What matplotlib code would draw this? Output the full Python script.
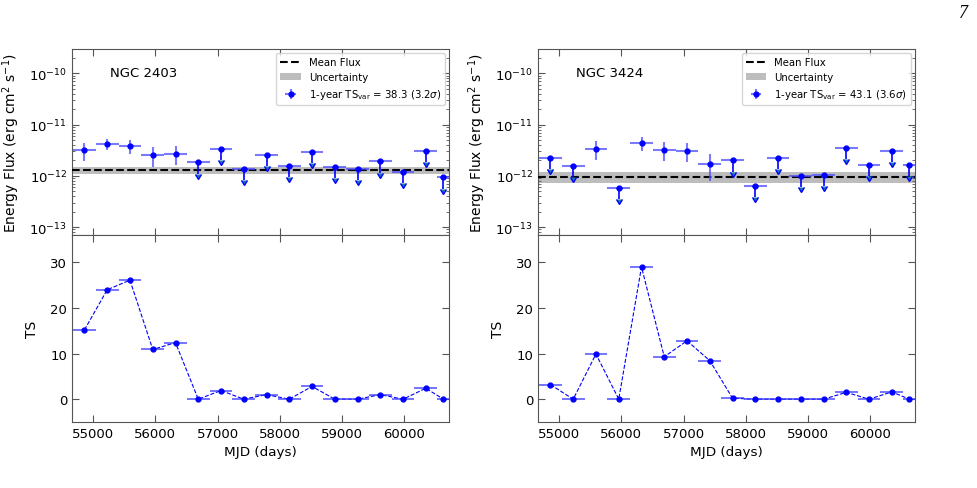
import matplotlib.pyplot as plt
import numpy as np

# bin centres (MJD) and half widths, 1-year bins
mjd = [54865, 55230, 55595, 55961, 56326, 56691, 57056, 57422, 57787,
       58152, 58517, 58882, 59248, 59613, 59978, 60343, 60625]
half_w = [182.6] * 16 + [100]

# NGC 2403
flux_2403 = [3.21e-12, 4.15e-12, 3.9e-12, 2.56e-12, 2.72e-12, 1.85e-12, 3.36e-12, 1.37e-12, 2.56e-12,
             1.59e-12, 2.98e-12, 1.50e-12, 1.37e-12, 1.93e-12, 1.21e-12, 3.11e-12, 0.94e-12]
err_2403 = [1.25e-12, 1.0e-12, 1.2e-12, 1.05e-12, 1.1e-12, 0, 0, 0, 0,
            0, 0, 0, 0, 0, 0, 0, 0]
ul_2403 = [False, False, False, False, False, True, True, True, True,
           True, True, True, True, True, True, True, True]
ts_2403 = [15.2, 24.0, 26.1, 10.9, 12.4, 0, 1.9, 0, 1.0, 0, 2.8, 0, 0, 1.0, 0, 2.4, 0]
mean_2403 = 1.31e-12
mean_err_2403 = 0.21e-12

# NGC 3424
flux_3424 = [2.28e-12, 1.57e-12, 3.36e-12, 0.583e-12, 4.34e-12, 3.26e-12, 3.11e-12, 1.74e-12, 2.02e-12,
             0.63e-12, 2.24e-12, 1.01e-12, 1.04e-12, 3.56e-12, 1.64e-12, 3.07e-12, 1.66e-12]
err_3424 = [0, 0, 1.35e-12, 0, 1.3e-12, 1.35e-12, 1.25e-12, 0.95e-12, 0,
            0, 0, 0, 0, 0, 0, 0, 0]
ul_3424 = [True, True, False, True, False, False, False, False, True,
           True, True, True, True, True, True, True, True]
ts_3424 = [3.2, 0, 9.9, 0, 29.0, 9.3, 12.8, 8.45, 0.2, 0, 0, 0, 0, 1.5, 0, 1.6, 0]
mean_3424 = 0.94e-12
mean_err_3424 = 0.23e-12

sources = [
    ('NGC 2403', flux_2403, err_2403, ul_2403, ts_2403, mean_2403, mean_err_2403, '38.3', '3.2'),
    ('NGC 3424', flux_3424, err_3424, ul_3424, ts_3424, mean_3424, mean_err_3424, '43.1', '3.6'),
]

spine_col = '#555555'


def style_axis(ax):
    ax.tick_params(which='both', direction='in', top=True, right=True,
                   colors='black', labelsize=9.5)
    ax.tick_params(which='major', length=5, color=spine_col)
    ax.tick_params(which='minor', length=2.5, color=spine_col)
    for s in ax.spines.values():
        s.set_color(spine_col)


fig = plt.figure(figsize=(9.78, 4.89), dpi=100)
lefts = [72 / 978, 538 / 978]

for i, (name, flux, err, ul, ts, mean, mean_err, tsvar, sig) in enumerate(sources):
    ax1 = fig.add_axes([lefts[i], 1 - 236 / 489, 377 / 978, 186 / 489])
    ax2 = fig.add_axes([lefts[i], 1 - 423 / 489, 377 / 978, 187 / 489], sharex=ax1)

    x = np.array(mjd)
    xw = np.array(half_w)
    f = np.array(flux)
    e = np.array(err)
    u = np.array(ul)
    det = ~u

    # mean flux and its uncertainty
    ax1.axhline(mean, color='black', ls='--', lw=1.5, label='Mean Flux', zorder=3)
    ax1.axhspan(mean - mean_err, mean + mean_err, color='#bdbdbd', lw=0,
                label='Uncertainty', zorder=1)

    # detections
    ax1.errorbar(x[det], f[det], xerr=xw[det], yerr=e[det], fmt='o', ms=3.5,
                 color='blue', ecolor=(0.3, 0.3, 1.0, 0.75), elinewidth=1.5,
                 label=r'1-year TS$_{\rm var}$ = %s (%s$\sigma$)' % (tsvar, sig), zorder=4)
    # upper limits
    ax1.errorbar(x[u], f[u], xerr=xw[u], fmt='o', ms=3.5, color='blue',
                 ecolor=(0.3, 0.3, 1.0, 0.75), elinewidth=1.5, zorder=4)
    ax1.errorbar(x[u], f[u], yerr=0.4 * f[u], uplims=True, fmt='none',
                 ecolor='blue', elinewidth=1.2, capsize=2.5, zorder=4)

    ax1.set_yscale('log')
    ax1.set_ylim(7e-14, 3e-10)
    ax1.set_xlim(54665, 60715)
    ax1.set_ylabel(r'Energy Flux (erg cm$^{2}$ s$^{-1}$)', fontsize=10)
    ax1.yaxis.set_label_coords(-0.133, 0.5)
    ax1.text(0.10, 0.875, name, transform=ax1.transAxes, fontsize=9.5, va='center')
    ax1.legend(loc='upper right', fontsize=7.3, borderaxespad=0.4)
    style_axis(ax1)
    plt.setp(ax1.get_xticklabels(), visible=False)

    # TS panel
    ax2.plot(x, ts, ls='--', lw=0.8, color='blue', zorder=2)
    ax2.errorbar(x, ts, xerr=xw, fmt='o', ms=3.5, color='blue',
                 ecolor=(0.2, 0.2, 1.0, 0.8), elinewidth=1.2, zorder=3)
    ax2.set_ylim(-5, 36)
    ax2.set_yticks([0, 10, 20, 30])
    ax2.set_xticks([55000, 56000, 57000, 58000, 59000, 60000])
    ax2.set_ylabel('TS', fontsize=10)
    ax2.yaxis.set_label_coords(-0.088, 0.5)
    ax2.set_xlabel('MJD (days)', fontsize=9.7)
    style_axis(ax2)

fig.text(0.99, 0.972, '7', fontsize=13, family='Liberation Serif', style='italic',
         ha='right', va='center')

fig.savefig('out.png', dpi=100)
